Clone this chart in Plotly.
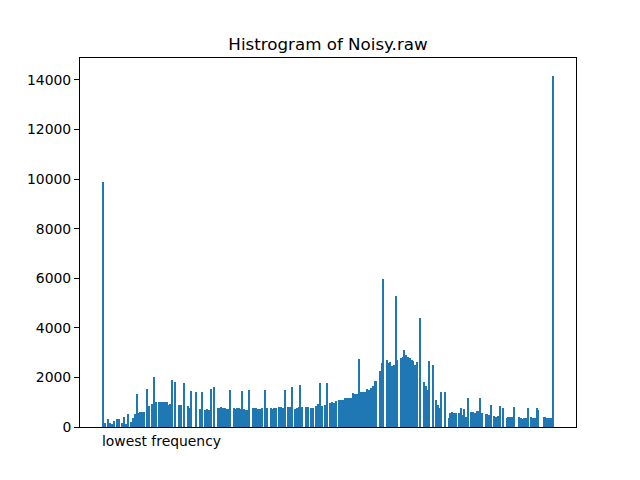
import plotly.graph_objs as go

# Histogram counts, one per grey level 0..255
levels = list(range(256))
counts = [
    9880, 170, 0, 310, 170, 120, 250, 0, 330, 330, 0, 170, 400, 120, 540, 0,
    190, 360, 540, 1330, 550, 600, 600, 600, 0, 1530, 860, 0, 920, 2015, 1000, 0,
    1010, 1010, 1010, 1010, 1000, 900, 940, 1890, 0, 1810, 0, 890, 870, 0, 1770, 0,
    850, 750, 1450, 0, 0, 1410, 0, 720, 1410, 0, 680, 720, 680, 1530, 0, 1610,
    0, 760, 760, 800, 760, 760, 720, 720, 1490, 0, 760, 720, 760, 760, 720, 1450,
    720, 680, 680, 1490, 0, 760, 760, 760, 720, 720, 760, 0, 1490, 760, 0, 760,
    720, 760, 760, 0, 800, 800, 760, 1490, 0, 800, 800, 1610, 0, 720, 760, 800,
    1690, 800, 0, 800, 800, 0, 780, 780, 0, 850, 930, 1770, 850, 0, 870, 1770,
    0, 970, 1000, 970, 1050, 0, 1080, 1080, 1080, 1150, 1190, 1150, 1150, 1150, 1370, 1330,
    1330, 2740, 1410, 1410, 1410, 1410, 1530, 1490, 1570, 1650, 1850, 1850, 0, 2260, 2580, 5970,
    0, 2700, 2580, 2620, 2460, 2500, 5280, 2700, 0, 2780, 2820, 3100, 2900, 2820, 2780, 2700,
    2660, 2500, 2620, 0, 4390, 0, 1810, 1650, 1490, 2660, 0, 2500, 0, 1090, 890, 770,
    1410, 0, 1410, 0, 360, 560, 600, 560, 560, 0, 560, 770, 480, 730, 400, 1170,
    0, 600, 600, 560, 640, 640, 1170, 560, 0, 520, 520, 480, 890, 0, 440, 400,
    440, 850, 0, 770, 0, 360, 400, 400, 400, 810, 0, 0, 400, 360, 320, 360,
    360, 770, 0, 400, 360, 360, 770, 690, 0, 0, 400, 400, 360, 360, 360, 14170,
]

y_ticks = [0, 2000, 4000, 6000, 8000, 10000, 12000, 14000]
y_tick_text = [str(v) for v in y_ticks]
x_label = "lowest frequency"

fig = go.Figure()

fig.add_trace(go.Bar(
    x=levels,
    y=counts,
    width=0.8,
    marker=dict(color='#1f77b4', line=dict(width=0)),
))

# matplotlib style: left-aligned label sitting under bin 0
fig.add_annotation(
    x=0, y=0, xref='x', yref='paper',
    text=x_label, showarrow=False,
    xanchor='left', yanchor='top', xshift=-3, yshift=-4,
    font=dict(family='DejaVu Sans', size=13.9, color='black'),
)

fig.update_layout(
    width=640, height=480,
    margin=dict(l=80, r=64, t=58, b=53),
    title=dict(
        text='Histrogram of Noisy.raw',
        x=0.5, xref='paper', y=1 - 44 / 480, yanchor='middle',
        font=dict(family='DejaVu Sans', size=16.7, color='black'),
    ),
    font=dict(family='DejaVu Sans', size=13.9, color='black'),
    plot_bgcolor='white',
    paper_bgcolor='white',
    showlegend=False,
    bargap=0,
    xaxis=dict(
        range=[-13.2, 268.2],
        showticklabels=False, ticks='',
        showgrid=False, zeroline=False,
        showline=True, linecolor='black', linewidth=1, mirror=True,
    ),
    yaxis=dict(
        range=[0, 14886],
        tickmode='array', tickvals=y_ticks, ticktext=y_tick_text,
        ticks='outside', ticklen=5, tickcolor='black',
        showgrid=False, zeroline=False,
        showline=True, linecolor='black', linewidth=1, mirror=True,
    ),
)

# drop the default page margin so the figure sits at the window corner
fig.write_html(
    "out.html",
    config={'displayModeBar': False},
    post_script="document.body.style.margin='0';",
)
